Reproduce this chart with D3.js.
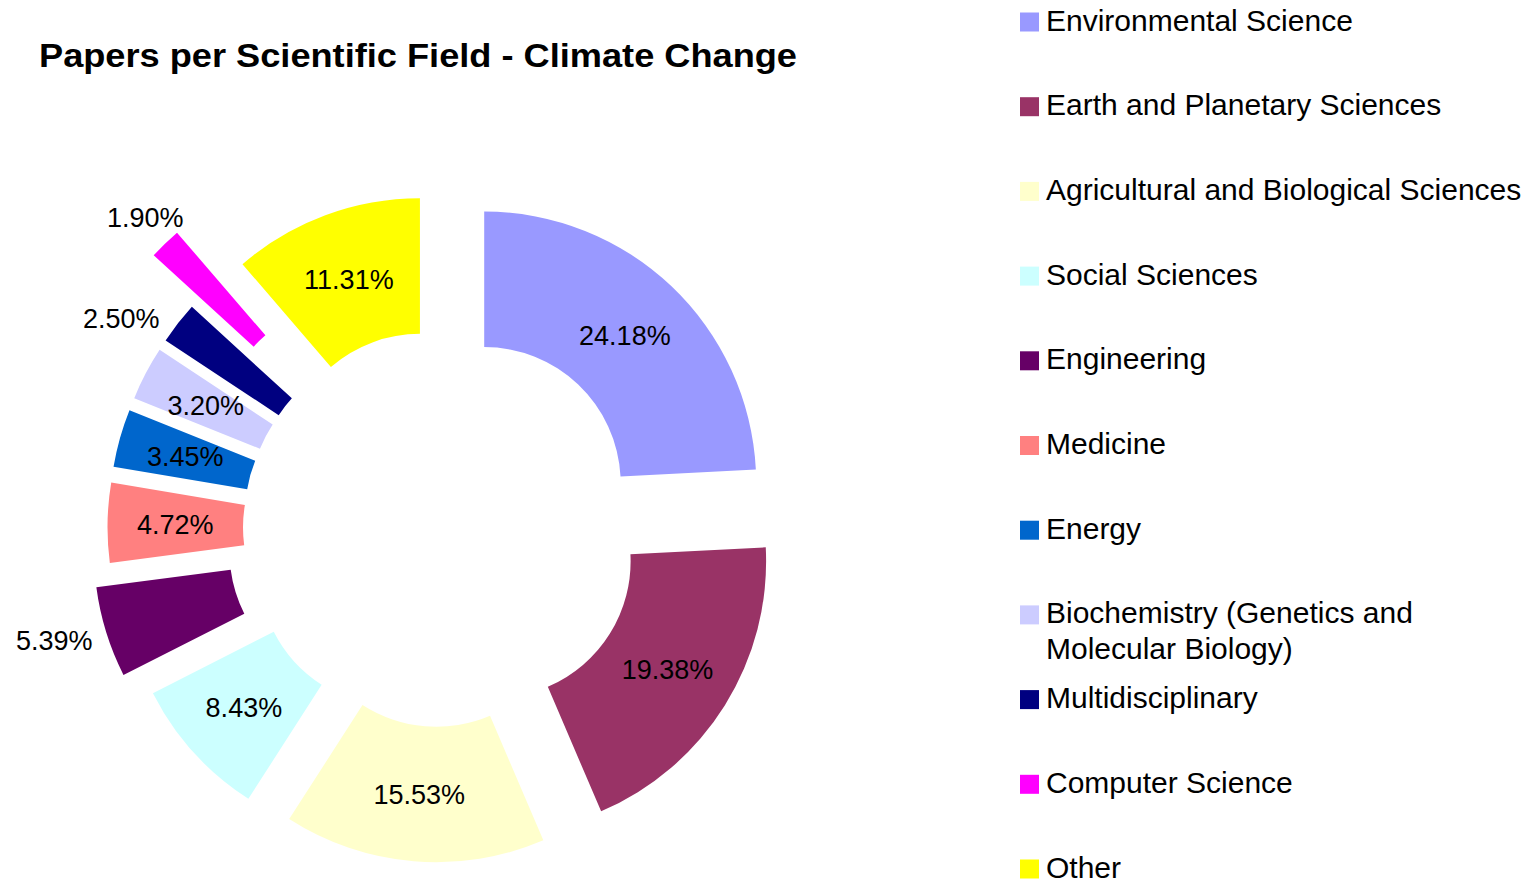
<!DOCTYPE html>
<html>
<head>
<meta charset="utf-8">
<script src="https://cdn.jsdelivr.net/npm/d3@7"></script>
<style>
  body { margin: 0; background: #fff; }
  svg { display: block; }
  text { font-family: "Liberation Sans", Arial, sans-serif; fill: #000; }
</style>
</head>
<body>
<svg id="chart" width="1526" height="885"></svg>
<script>
// data (percent of papers)
const fields = [
  "Environmental Science",
  "Earth and Planetary Sciences",
  "Agricultural and Biological Sciences",
  "Social Sciences",
  "Engineering",
  "Medicine",
  "Energy",
  "Biochemistry (Genetics and Molecular Biology)",
  "Multidisciplinary",
  "Computer Science",
  "Other"
];
const shares = [24.18, 19.38, 15.53, 8.43, 5.39, 4.72, 3.45, 3.20, 2.50, 1.90, 11.31];
const colors = ["#9999FF", "#993366", "#FFFFCC", "#CCFFFF", "#660066", "#FF8080",
                "#0066CC", "#CCCCFF", "#000080", "#FF00FF", "#FFFF00"];

const chartTitle = "Papers per Scientific Field - Climate Change";

// layout
const cx = 441.5, cy = 528.5;
const outerR = 272, innerR = 136.5;
const explodeDefault = 62;
const explodeBy = { "Engineering": 79, "Computer Science": 125 };
const outsideLabels = ["Engineering", "Multidisciplinary", "Computer Science"];
const labelNudge = { "Computer Science": [18, -6], "Multidisciplinary": [-14, 12] };
const labelSize = 27;

const svg = d3.select("#chart");

// title
svg.append("text")
  .attr("x", 39)
  .attr("y", 67)
  .attr("font-size", 34)
  .attr("font-weight", "bold")
  .attr("textLength", 758)
  .attr("lengthAdjust", "spacingAndGlyphs")
  .text(chartTitle);

const data = fields.map((f, i) => ({ name: f, value: shares[i], color: colors[i] }));

const pie = d3.pie().value(d => d.value).sort(null);
const arc = d3.arc().innerRadius(innerR).outerRadius(outerR);
const arcs = pie(data);

const donut = svg.append("g").attr("transform", `translate(${cx},${cy})`);

const slice = donut.selectAll(".slice")
  .data(arcs)
  .enter()
  .append("g")
  .attr("class", "slice")
  .attr("transform", d => {
    const mid = (d.startAngle + d.endAngle) / 2;
    const k = explodeBy[d.data.name] || explodeDefault;
    return `translate(${k * Math.sin(mid)},${-k * Math.cos(mid)})`;
  });

slice.append("path")
  .attr("d", arc)
  .attr("fill", d => d.data.color);

// percent labels
slice.append("text")
  .attr("font-size", labelSize)
  .attr("text-anchor", "middle")
  .text(d => d.data.value.toFixed(2) + "%")
  .each(function (d) {
    const t = d3.select(this);
    let x, y;
    if (outsideLabels.includes(d.data.name)) {
      const mid = (d.startAngle + d.endAngle) / 2;
      const dx = Math.sin(mid), dy = -Math.cos(mid);
      const halfW = this.getComputedTextLength() / 2;
      const halfH = labelSize * 0.45;
      const r = outerR + 16;
      const nudge = labelNudge[d.data.name] || [0, 0];
      x = r * dx + dx * halfW + nudge[0];
      y = r * dy + dy * halfH + nudge[1];
    } else {
      [x, y] = arc.centroid(d);
    }
    t.attr("x", x).attr("y", y + labelSize * 0.36);
  });

// legend
const legendX = 1020, legendTop = 22, legendStep = 84.7, swatch = 19;
const legendFont = 30, legendMaxW = 1526 - 1046;

const legend = svg.append("g").attr("class", "legend");

const item = legend.selectAll(".item")
  .data(data)
  .enter()
  .append("g")
  .attr("class", "item")
  .attr("transform", (d, i) => `translate(${legendX},${legendTop + i * legendStep})`);

item.append("rect")
  .attr("x", 0)
  .attr("y", -swatch / 2)
  .attr("width", swatch)
  .attr("height", swatch)
  .attr("fill", d => d.color);

item.append("text")
  .attr("x", 26)
  .attr("y", 8.5)
  .attr("font-size", legendFont)
  .each(function (d) {
    // simple word wrap for long names
    const t = d3.select(this);
    const words = d.name.split(" ");
    let line = [];
    let tspan = t.append("tspan").attr("x", 26).attr("dy", 0);
    words.forEach(w => {
      line.push(w);
      tspan.text(line.join(" "));
      if (tspan.node().getComputedTextLength() > legendMaxW && line.length > 1) {
        line.pop();
        tspan.text(line.join(" "));
        line = [w];
        tspan = t.append("tspan").attr("x", 26).attr("dy", 35.7).text(w);
      }
    });
  });
</script>
</body>
</html>
